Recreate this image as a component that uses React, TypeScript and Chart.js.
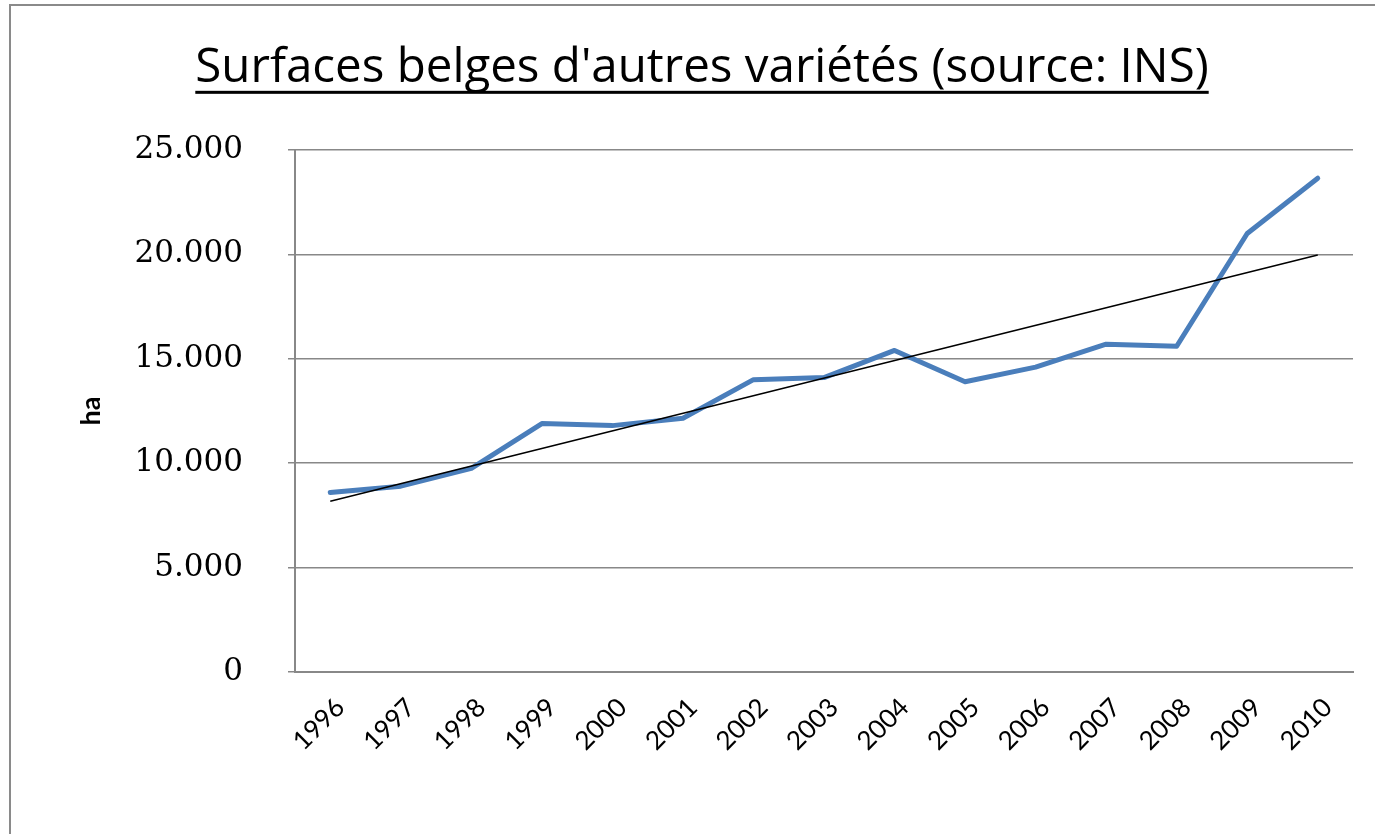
import React, { useEffect, useRef } from "react";
import { Chart, registerables } from "chart.js";

Chart.register(...registerables);

const years = ["1996", "1997", "1998", "1999", "2000", "2001", "2002", "2003", "2004", "2005", "2006", "2007", "2008", "2009", "2010"];
const surfaces = [8600, 8900, 9750, 11900, 11800, 12150, 14000, 14100, 15400, 13900, 14600, 15700, 15600, 21000, 23650];
const trendLine = [8180, null, null, null, null, null, null, null, null, null, null, null, null, null, 19970];
const yMin = 0;
const yMax = 25000;
const yStep = 5000;
const titleText = "Surfaces belges d'autres variétés (source: INS)";
const yAxisLabel = "ha";

const TITLE_FONT = { family: "Open Sans", size: 47.5, weight: "normal" as const };

const fmt = (v: number) => String(v).replace(/\B(?=(\d{3})+(?!\d))/g, ".");

const framePlugin = {
  id: "frame",
  beforeDraw(chart: any) {
    const ctx = chart.ctx;
    ctx.save();
    ctx.fillStyle = "#ffffff";
    ctx.fillRect(0, 0, chart.width, chart.height);
    ctx.strokeStyle = "#8a8a8a";
    ctx.lineWidth = 2;
    ctx.strokeRect(10, 5, chart.width + 50, chart.height + 50);
    ctx.restore();
  },
};

const underlinePlugin = {
  id: "underline",
  afterDraw(chart: any) {
    const tb = chart.titleBlock;
    if (!tb) return;
    const ctx = chart.ctx;
    ctx.save();
    ctx.font = `${TITLE_FONT.weight} ${TITLE_FONT.size}px "${TITLE_FONT.family}"`;
    const w = ctx.measureText(titleText).width;
    const cx = (tb.left + tb.right) / 2;
    const pad = tb.options.padding;
    const padTop = typeof pad === "number" ? pad : pad.top;
    const mid = tb.top + padTop + (TITLE_FONT.size * 1.2) / 2;
    const y = mid + TITLE_FONT.size * 0.47;
    ctx.fillStyle = "#000000";
    ctx.fillRect(cx - w / 2, y, w, 3);
    ctx.restore();
  },
};

export default function App() {
  const ref = useRef<HTMLCanvasElement | null>(null);
  useEffect(() => {
    document.body.style.margin = "0";
    if (!ref.current) return;
    const chart = new Chart(ref.current, {
      type: "line",
      data: {
        labels: years,
        datasets: [
          {
            label: "Tendance",
            data: trendLine,
            borderColor: "#000000",
            borderWidth: 1.6,
            pointRadius: 0,
            spanGaps: true,
            fill: false,
            tension: 0,
          },
          {
            label: "Surfaces",
            data: surfaces,
            borderColor: "#4a7ebb",
            borderWidth: 5,
            pointRadius: 0,
            fill: false,
            tension: 0,
            borderJoinStyle: "round",
            borderCapStyle: "round",
          },
        ],
      },
      options: {
        responsive: false,
        animation: false,
        layout: { padding: { left: 51, right: 22, top: 0, bottom: 0 } },
        plugins: {
          legend: { display: false },
          tooltip: { enabled: false },
          title: {
            display: true,
            text: titleText,
            color: "#000000",
            font: TITLE_FONT,
            padding: { top: 40, bottom: 53 },
          },
        },
        scales: {
          x: {
            offset: true,
            grid: { display: false, drawTicks: false },
            border: { display: true, color: "#888888", width: 2 },
            ticks: {
              autoSkip: false,
              minRotation: 45,
              maxRotation: 45,
              padding: 20,
              labelOffset: 10,
              color: "#000000",
              font: { family: "Lato", size: 26 },
            },
            afterFit(scale: any) {
              scale.height = 162;
            },
          },
          y: {
            min: yMin,
            max: yMax,
            grid: { color: "#888888", lineWidth: 1.5, tickLength: 7, drawTicks: true },
            border: { display: true, color: "#888888", width: 2 },
            ticks: {
              stepSize: yStep,
              padding: 45,
              color: "#000000",
              font: { family: "DejaVu Serif", size: 31 },
              callback: (v: any) => fmt(Number(v)),
            },
            title: {
              display: true,
              text: yAxisLabel,
              color: "#000000",
              font: { family: "Lato", size: 27, weight: "bold" },
              padding: { top: 24, bottom: 0 },
            },
            afterFit(scale: any) {
              scale.width = 244;
            },
          },
        },
      },
      plugins: [framePlugin, underlinePlugin],
    });
    return () => chart.destroy();
  }, []);
  return (
    <div style={{ width: 1375, height: 834 }}>
      <canvas ref={ref} width={1375} height={834} style={{ display: "block" }} />
    </div>
  );
}
